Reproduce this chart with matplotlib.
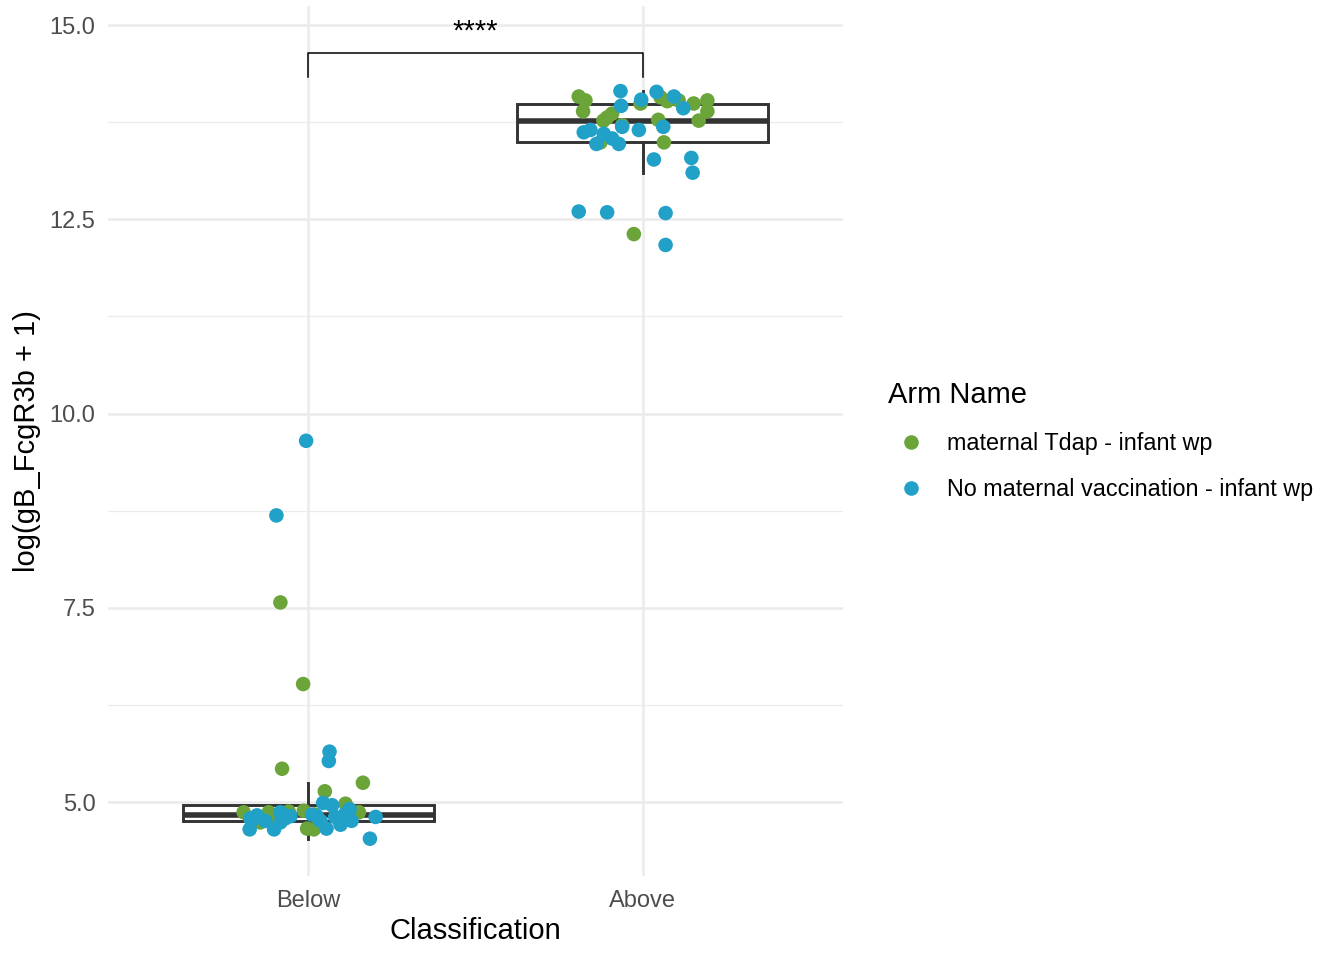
import numpy as np
import matplotlib.pyplot as plt

plt.rcParams['font.family'] = ['Liberation Sans', 'DejaVu Sans']

categories = ['Below', 'Above']
arms = ['maternal Tdap - infant wp', 'No maternal vaccination - infant wp']
colors = ['#6BA53A', '#21A0C8']

# jitter offset (in category units) and log value, per group and arm
below_tdap_dx = [-0.079, 0.163, 0.049, -0.194, -0.119, -0.059, -0.144, -0.014, -0.004, 0.016, 0.111, 0.151, -0.084, -0.016,
                 -0.110, 0.020, 0.140]
below_tdap_y = [5.43, 5.25, 5.14, 4.87, 4.87, 4.88, 4.74, 4.89, 4.66, 4.65, 4.98, 4.87, 7.57, 6.52,
                4.80, 4.84, 4.86]

below_none_dx = [-0.007, -0.096, 0.063, 0.061, 0.044, 0.071, -0.174, -0.154, -0.176, -0.084, -0.084,
                 -0.103, -0.054, 0.011, 0.036, 0.054, 0.096, 0.123, 0.129, 0.201, 0.184,
                 -0.165, -0.070, 0.025, 0.080, 0.110, -0.130]
below_none_y = [9.65, 8.69, 5.65, 5.53, 4.99, 4.96, 4.79, 4.83, 4.65, 4.87, 4.74,
                4.65, 4.82, 4.84, 4.76, 4.66, 4.71, 4.91, 4.76, 4.81, 4.53,
                4.78, 4.79, 4.82, 4.81, 4.85, 4.76]

above_tdap_dx = [-0.191, -0.171, -0.178, -0.106, -0.091, -0.061, 0.054, 0.074, 0.108, 0.153, 0.194,
                 0.194, 0.168, 0.047, 0.064, -0.126, -0.026, -0.006, -0.117]
above_tdap_y = [14.08, 14.03, 13.89, 13.81, 13.86, 13.71, 14.07, 14.02, 14.03, 13.99, 14.03,
                13.89, 13.77, 13.78, 13.49, 13.49, 12.31, 13.99, 13.77]

above_none_dx = [-0.066, -0.064, -0.004, 0.042, 0.094, 0.122, -0.176, -0.156, -0.138, -0.116, -0.091,
                 -0.071, -0.061, -0.011, 0.062, 0.034, 0.146, 0.150, -0.191, -0.106, 0.069, 0.069]
above_none_y = [14.15, 13.96, 14.04, 14.14, 14.08, 13.93, 13.62, 13.65, 13.47, 13.60, 13.54,
                13.47, 13.69, 13.65, 13.69, 13.27, 13.29, 13.10, 12.60, 12.59, 12.58, 12.17]

sig_label = '****'
bracket_low = 14.33
bracket_high = 14.635

fig = plt.figure(figsize=(13.44, 9.6), dpi=100)
ax = fig.add_axes([108 / 1344, 1 - 876 / 960, (843 - 108) / 1344, (876 - 5.6) / 960])

box_data = [below_tdap_y + below_none_y, above_tdap_y + above_none_y]
ax.boxplot(box_data, positions=[0, 1], widths=0.75, showfliers=False, showcaps=False,
           whis=1.5, patch_artist=True, zorder=2,
           boxprops=dict(facecolor='white', edgecolor='#333333', linewidth=2.1),
           whiskerprops=dict(color='#333333', linewidth=2.1),
           medianprops=dict(color='#333333', linewidth=4.0))

groups = [
    (0, below_tdap_dx, below_tdap_y, 0),
    (1, above_tdap_dx, above_tdap_y, 0),
    (0, below_none_dx, below_none_y, 1),
    (1, above_none_dx, above_none_y, 1),
]
for pos, dx, y, arm in groups:
    ax.scatter(np.array(dx) + pos, y, s=110, color=colors[arm], edgecolors='none', zorder=3)

# significance bracket
ax.plot([0, 0, 1, 1], [bracket_low, bracket_high, bracket_high, bracket_low],
        color='black', linewidth=1.1, zorder=4)
ax.text(0.5, bracket_high + 0.1, sig_label, ha='center', va='bottom', fontsize=21, zorder=4)

# grid like theme_minimal
ax.set_xlim(-0.6, 1.6)
ax.set_ylim(4.05, 15.25)
ax.set_yticks([5.0, 7.5, 10.0, 12.5, 15.0])
ax.set_yticklabels(['5.0', '7.5', '10.0', '12.5', '15.0'])
ax.set_yticks([6.25, 8.75, 11.25, 13.75], minor=True)
ax.set_xticks([0, 1])
ax.set_xticklabels(categories)
ax.grid(True, which='major', color='#EBEBEB', linewidth=1.8, zorder=0)
ax.grid(True, which='minor', axis='y', color='#EBEBEB', linewidth=0.9, zorder=0)
ax.set_axisbelow(True)
for s in ax.spines.values():
    s.set_visible(False)
ax.tick_params(which='both', length=0, labelsize=17, labelcolor='#4D4D4D')
ax.tick_params(axis='x', pad=10)
ax.tick_params(axis='y', pad=9)

ax.set_xlabel('Classification', fontsize=21, labelpad=4)
ax.set_ylabel('log(gB_FcgR3b + 1)', fontsize=21, labelpad=6)

handles = [plt.Line2D([], [], marker='o', linestyle='none', markersize=10.5,
                      markerfacecolor=c, markeredgecolor='none') for c in colors]
leg = fig.legend(handles, arms, title='Arm Name', loc='upper left',
                 bbox_to_anchor=(876 / 1344, 1 - 369 / 960), frameon=False,
                 fontsize=16.8, title_fontsize=21, alignment='left',
                 labelspacing=1.0, handletextpad=0.56, borderpad=0)

fig.savefig('out.png', dpi=100)
